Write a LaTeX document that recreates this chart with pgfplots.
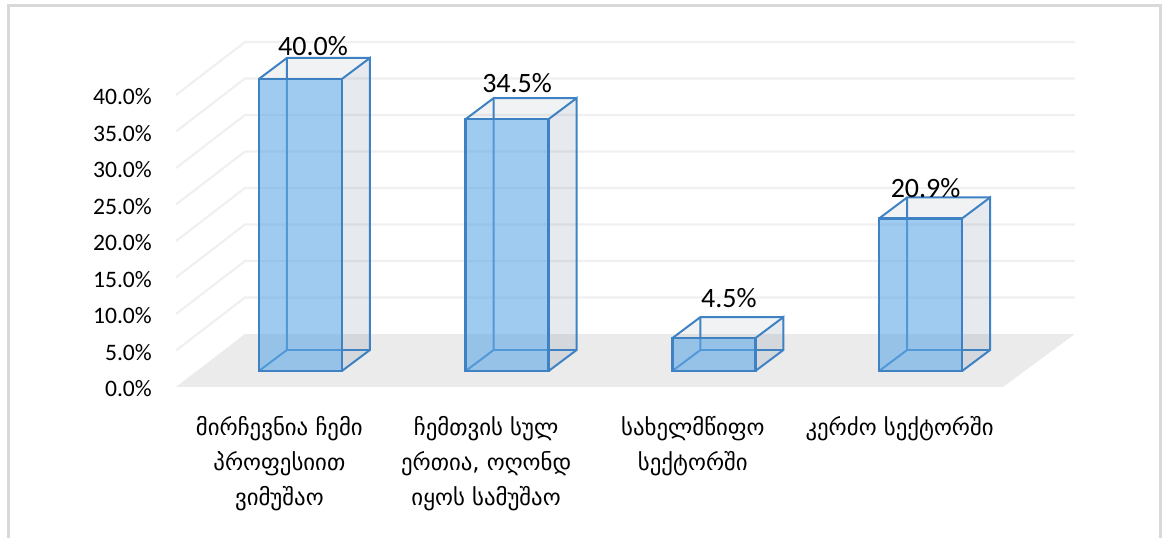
\documentclass[border=0pt]{standalone}
\usepackage{fontspec}
\setmainfont{Carlito}
\newfontfamily\geo{DejaVu Sans}
\usepackage{pgfplots}
\pgfplotsset{compat=1.18}
\definecolor{framec}{HTML}{D9D9D9}
\definecolor{floorc}{HTML}{EBEBEB}
\definecolor{gridc}{HTML}{F0F0F0}
\definecolor{linec}{HTML}{3E82C4}
\definecolor{frontc}{HTML}{5FA8E6}
\definecolor{sidec}{HTML}{3F5878}
% depth between front and back face of a bar: 28px,21px = 0.1354 cat, 2.877 %
\newcommand\ThreeDBar[2]{%
  \pgfmathsetmacro\xl{#1-0.2007}%
  \pgfmathsetmacro\xr{#1+0.2007}%
  \pgfmathsetmacro\xlb{\xl+0.1354}%
  \pgfmathsetmacro\xrb{\xr+0.1354}%
  \pgfmathsetmacro\vb{#2+2.877}%
  \addplot[fill=sidec,fill opacity=0.13,draw=none,xshift=21pt,yshift=16pt]
    coordinates {(\xr,0)(\xr,#2)(\xrb,\vb)(\xrb,2.877)} -- cycle;
  \addplot[fill=sidec,fill opacity=0.08,draw=none,xshift=21pt,yshift=16pt]
    coordinates {(\xl,#2)(\xr,#2)(\xrb,\vb)(\xlb,\vb)} -- cycle;
  \addplot[linec,line width=2pt,xshift=21pt,yshift=16pt]
    coordinates {(\xl,0)(\xlb,2.877)(\xlb,\vb)};
  \addplot[linec,line width=2pt,xshift=21pt,yshift=16pt]
    coordinates {(\xlb,2.877)(\xrb,2.877)};
  \addplot[linec,line width=2pt,xshift=21pt,yshift=16pt]
    coordinates {(\xr,0)(\xrb,2.877)(\xrb,\vb)(\xr,#2)};
  \addplot[linec,line width=2pt,xshift=21pt,yshift=16pt]
    coordinates {(\xl,#2)(\xlb,\vb)(\xrb,\vb)};
  \addplot[fill=frontc,fill opacity=0.6,draw=linec,draw opacity=1,line width=2.3pt,xshift=21pt,yshift=16pt]
    coordinates {(\xl,0)(\xr,0)(\xr,#2)(\xl,#2)} -- cycle;
}
\newcommand\WallLine[2]{\addplot[gridc,line width=2.2pt] coordinates {(-0.5,#1)(-0.1663,#2)(3.8476,#2)};}
\begin{document}
\begin{tikzpicture}[x=1pt,y=1pt]
\path[use as bounding box] (0,0) rectangle (1165,538);
\draw[framec,line width=3pt] (8,0) -- (8,532) -- (1160,532) -- (1160,0);
\begin{axis}[
  at={(176pt,151pt)}, anchor=south west,
  scale only axis, width=827pt, height=292pt,
  xmin=-0.5, xmax=3.5, ymin=0, ymax=40,
  clip=false,
  axis line style={draw=none},
  major tick length=0pt,
  tick style={draw=none},
  ytick={0,5,10,15,20,25,30,35,40},
  yticklabel={\pgfmathprintnumber[fixed,fixed zerofill,precision=1,assume math mode=true]{\tick}\%},
  yticklabel style={font=\fontsize{23.6}{26}\selectfont,inner sep=0pt,anchor=east,xshift=-24pt,yshift=-2pt},
  xtick={0,1,2,3},
  xticklabels={
    {მირჩევნია ჩემი\\პროფესიით\\ვიმუშაო},
    {ჩემთვის სულ\\ერთია, ოღონდ\\იყოს სამუშაო},
    {სახელმწიფო\\სექტორში},
    {კერძო სექტორში}},
  xticklabel style={font=\geo\fontsize{22.8}{35}\selectfont,align=center,anchor=north,inner sep=0pt,yshift=-29pt},
]
% floor
\addplot[fill=floorc,draw=none] coordinates {(-0.5,0)(3.5,0)(3.8476,7.26)(-0.1663,7.26)} -- cycle;
% walls
\WallLine{5}{12.26}
\WallLine{10}{17.26}
\WallLine{15}{22.26}
\WallLine{20}{27.26}
\WallLine{25}{32.26}
\WallLine{30}{37.26}
\WallLine{35}{42.26}
\WallLine{40}{47.26}
% bars
\ThreeDBar{0}{40.0}
\ThreeDBar{1}{34.5}
\ThreeDBar{2}{4.5}
\ThreeDBar{3}{20.9}
% data labels
\node[font=\fontsize{28}{30}\selectfont,inner sep=0pt,xshift=33.6pt,yshift=49pt] at (axis cs:0,40.0) {40.0\%};
\node[font=\fontsize{28}{30}\selectfont,inner sep=0pt,xshift=31pt,yshift=52pt] at (axis cs:1,34.5) {34.5\%};
\node[font=\fontsize{28}{30}\selectfont,inner sep=0pt,xshift=36pt,yshift=56pt] at (axis cs:2,4.5) {4.5\%};
\node[font=\fontsize{28}{30}\selectfont,inner sep=0pt,xshift=26pt,yshift=46pt] at (axis cs:3,20.9) {20.9\%};
\end{axis}
\end{tikzpicture}
\end{document}
